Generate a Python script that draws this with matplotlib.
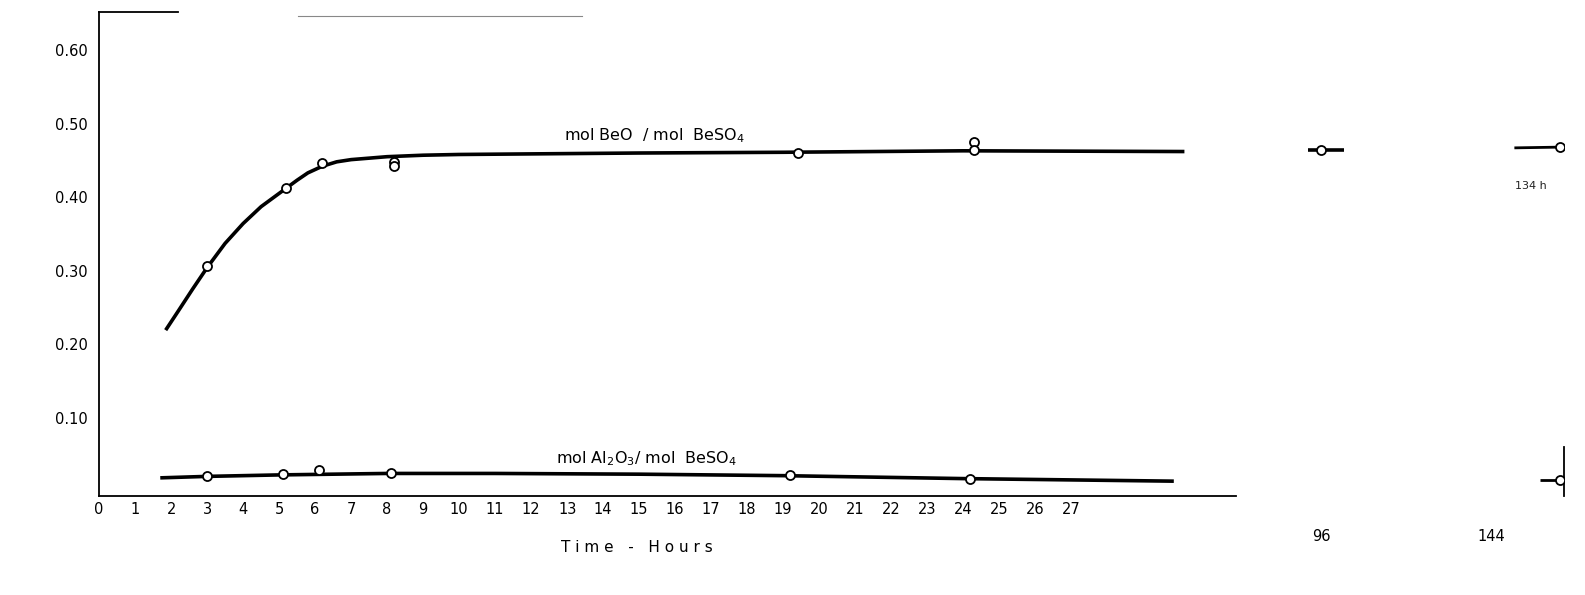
import numpy as np
import matplotlib.pyplot as plt
from matplotlib.transforms import ScaledTranslation

# broken time axis: hours -> drawing position
brk_hours = [0, 27, 30.2, 96, 144, 150]
brk_pos = [0, 27.05, 30.2, 34.0, 40.64, 41.47]

# mol BeO / mol BeSO4 : measured points
beo_t = [3, 5.2, 6.2, 8.2, 8.2, 19.4, 24.3, 24.3, 96, 144]
beo_v = [0.306, 0.412, 0.446, 0.448, 0.442, 0.460, 0.475, 0.464, 0.464, 0.468]
# hand drawn curve
beo_curve_t = [1.85, 2.2, 2.6, 3.0, 3.5, 4.0, 4.5, 5.0, 5.5, 5.8, 6.2, 6.6, 7.0, 7.5,
               8.0, 9.0, 10, 15, 19, 24, 30.2]
beo_curve_v = [0.219, 0.245, 0.275, 0.304, 0.337, 0.364, 0.387, 0.405, 0.423, 0.433, 0.442,
               0.448, 0.451, 0.453, 0.455, 0.457, 0.458, 0.460, 0.461, 0.463, 0.462]
beo_seg96_t = [89.7, 100.6]
beo_seg96_v = [0.464, 0.464]
beo_seg144_t = [134.9, 144]
beo_seg144_v = [0.467, 0.468]

# mol Al2O3 / mol BeSO4
al_t = [3, 5.1, 6.1, 8.1, 19.2, 24.2, 144]
al_v = [0.020, 0.023, 0.029, 0.024, 0.022, 0.016, 0.015]
al_curve_t = [1.7, 3, 5, 8, 11, 15, 19, 24, 29.9]
al_curve_v = [0.018, 0.020, 0.022, 0.024, 0.024, 0.023, 0.021, 0.017, 0.0135]
al_seg144_t = [140, 144]
al_seg144_v = [0.015, 0.015]

xticks = list(range(0, 28)) + [96, 144]
yticks = [0.10, 0.20, 0.30, 0.40, 0.50, 0.60]
ylabels = ['0.10', '0.20', '0.30', '0.40', '0.50', '0.60']


def fwd(h):
    return np.interp(h, brk_hours, brk_pos)


def inv(p):
    return np.interp(p, brk_pos, brk_hours)


fig = plt.figure(figsize=(15.85, 5.95), dpi=100)
ax = fig.add_axes([0.0625, 0.166, 0.924, 0.814])
ax.set_xscale('function', functions=(fwd, inv))
ax.set_xlim(0, 144.8)
ax.set_ylim(-0.007, 0.652)

lw = 2.6
line = dict(color='black', solid_capstyle='butt', solid_joinstyle='round', zorder=2)
ax.plot(beo_curve_t, beo_curve_v, lw=lw, **line)
ax.plot(beo_seg96_t, beo_seg96_v, lw=lw, **line)
ax.plot(beo_seg144_t, beo_seg144_v, lw=lw - 0.6, **line)
ax.plot(al_curve_t, al_curve_v, lw=lw, **line)
ax.plot(al_seg144_t, al_seg144_v, lw=lw - 0.6, **line)

mk = dict(ls='none', marker='o', ms=6.5, mfc='white', mec='black', mew=1.3, zorder=3)
ax.plot(beo_t, beo_v, **mk)
ax.plot(al_t, al_v, **mk)

ax.text(12.9, 0.484, 'mol BeO  / mol  BeSO$_4$', fontsize=11.5, va='center')
ax.text(12.7, 0.044, 'mol Al$_2$O$_3$/ mol  BeSO$_4$', fontsize=11.5, va='center')
ax.text(138.3, 0.415, '134 h', fontsize=8, va='center', ha='center', color='#222222')

ax.set_xticks(xticks)
ax.set_xticklabels([str(t) for t in xticks])
ax.set_yticks(yticks)
ax.set_yticklabels(ylabels)
ax.tick_params(axis='both', length=0, labelsize=10.5)
ax.tick_params(axis='x', pad=4)
ax.tick_params(axis='y', pad=8)

# 96 and 144 labels sit lower, 144 shifted left as in the original
lab144 = ax.get_xticklabels()[-1]
lab144.set_transform(lab144.get_transform() + ScaledTranslation(-0.68, -0.27, fig.dpi_scale_trans))
lab96 = ax.get_xticklabels()[-2]
lab96.set_transform(lab96.get_transform() + ScaledTranslation(0, -0.27, fig.dpi_scale_trans))

for s in ['left', 'bottom', 'top', 'right']:
    ax.spines[s].set_linewidth(1.3)
    ax.spines[s].set_color('black')
ax.spines['bottom'].set_bounds(0, 55)
ax.spines['top'].set_bounds(0, 2.2)
ax.spines['right'].set_bounds(-0.007, 0.06)
ax.axhline(0.647, xmin=0.136, xmax=0.330, color='#888888', lw=0.8)

fig.text(637 / 1585, 1 - 548 / 595, 'T i m e   -   H o u r s', fontsize=11,
         ha='center', va='center')

fig.savefig('out.png', dpi=100)
